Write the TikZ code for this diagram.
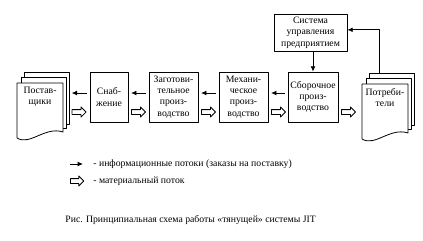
\documentclass[tikz,border=0pt]{standalone}
\usepackage{fontspec}
\setmainfont{Liberation Serif}
\usetikzlibrary{arrows.meta,positioning,shapes.arrows}

\begin{document}
\begin{tikzpicture}[x=0.75pt,y=-0.75pt,line width=0.6pt,line join=round,
	font=\fontsize{7.3}{8.5}\selectfont,
	box/.style={draw,align=center,inner sep=1pt,minimum height=37.5pt},
	sheet/.style={draw,fill=white},
	info/.style={-{Latex[length=4pt,width=3.6pt]},shorten <=2pt,shorten >=2pt},
	matarrow/.style={draw,single arrow,single arrow head extend=2pt,
		single arrow head indent=0pt,inner sep=1.5pt,minimum height=10.5pt,anchor=west}]
	\useasboundingbox (0,0) rectangle (423,240);
	\def\docstack#1#2#3#4{%
		\filldraw[sheet] (#1+7,#2-11) rectangle (#1+52,#2+41);
		\filldraw[sheet] (#1+4,#2-6) rectangle (#1+49,#2+45);
		\filldraw[sheet] (#1,#2+55) -- (#1,#2) -- (#1+46,#2) -- (#1+46,#2+49)
			.. controls (#1+28,#2+43) and (#1+13,#2+63) .. cycle;
		\node[align=center,inner sep=0pt] (#3) at (#1+23,#2+13.5) {#4};
		\coordinate (#3-r) at (#1+52,97);
		\coordinate (#3-l) at (#1,97);
		\coordinate (#3-t) at (#1+17,#2-11);}
	% stacks
	\docstack{17}{83}{post}{Постав-\\щики}
	\docstack{362}{84}{potr}{Потреби-\\тели}
	% boxes
	\node[box,minimum width=28.5pt] (snab) at (109,97) {Снаб-\\жение};
	\node[box,minimum width=36.75pt] (zag) at (173.5,97) {Заготови-\\тельное\\произ-\\водство};
	\node[box,minimum width=36.75pt] (mech) at (243.5,97) {Механи-\\ческое\\произ-\\водство};
	\node[box,minimum width=37.5pt] (sbor) at (313,97) {Сборочное\\произ-\\водство};
	\node[box,minimum width=54.75pt,minimum height=27.75pt] (sys) at (310.5,32.5) {Система\\управления\\предприятием};
	% information flows
	\draw[info] ([yshift=3pt]snab.west) -- ([yshift=3pt]snab.west -| post-r);
	\draw[info] ([yshift=3pt]zag.west) -- ([yshift=3pt]snab.east);
	\draw[info] ([yshift=3pt]mech.west) -- ([yshift=3pt]zag.east);
	\draw[info] ([yshift=3pt]sbor.west) -- ([yshift=3pt]mech.east);
	\draw[info,shorten <=0pt,shorten >=0pt] (sys.south -| sbor.north) -- (sbor.north);
	\draw[info,shorten <=0pt,shorten >=0pt] (potr-t) |- ([yshift=2pt]sys.east);
	% material flow
	\node[matarrow,right=2pt of post-r,yshift=-11.25pt] (m1) {};
	\node[matarrow,right=2pt of snab.east,yshift=-11.25pt] (m2) {};
	\node[matarrow,right=2pt of zag.east,yshift=-11.25pt] (m3) {};
	\node[matarrow,right=2pt of mech.east,yshift=-11.25pt] (m4) {};
	\node[matarrow,right=2pt of sbor.east,yshift=-11.25pt] (m5) {};
	% legend
	\coordinate (l1a) at (70,164);
	\coordinate (l1b) at (83,164);
	\draw[info,shorten <=0pt,shorten >=0pt] (l1a) -- (l1b);
	\node[anchor=west,inner sep=0pt] (l1) at (93,164) {- информационные потоки (заказы на поставку)};
	\node[matarrow,minimum height=10pt] (l2a) at (70,181) {};
	\node[anchor=west,inner sep=0pt] (l2) at (93,181) {- материальный поток};
	\node[anchor=west,inner sep=0pt] (cap) at (65,220) {Рис. Принципиальная схема работы «тянущей» системы JIT};
\end{tikzpicture}
\end{document}
